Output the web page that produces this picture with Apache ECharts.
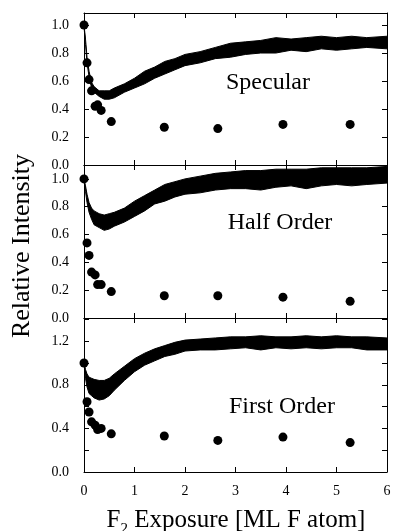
<!DOCTYPE html>
<html>
<head>
<meta charset="utf-8">
<script src="https://cdn.jsdelivr.net/npm/echarts@6/dist/echarts.min.js"></script>
<style>
  html, body { margin: 0; padding: 0; background: #fff; }
  #chart1 { width: 394px; height: 531px; }
</style>
</head>
<body>
<div id="chart1"></div>
<script>
// 初始化echarts实例
let chart1 = echarts.init(document.getElementById("chart1"));

// exposure points where the noisy trace was read (ML F atom)
let traceX = [0, 0.03, 0.06, 0.1, 0.15, 0.2, 0.3, 0.4, 0.5, 0.6, 0.8, 1.0, 1.2, 1.4, 1.6, 1.8, 2.0, 2.3, 2.6, 2.9, 3.2, 3.5, 3.8, 4.1, 4.4, 4.7, 5.0, 5.3, 5.6, 6.0];

// lower / upper edge of the noisy trace, one pair per panel
let specLow = [0.99, 0.86, 0.73, 0.63, 0.55, 0.52, 0.49, 0.47, 0.47, 0.48, 0.52, 0.55, 0.58, 0.62, 0.65, 0.68, 0.71, 0.73, 0.76, 0.77, 0.79, 0.80, 0.80, 0.82, 0.81, 0.83, 0.82, 0.83, 0.84, 0.83];
let specHigh = [1.0, 0.90, 0.77, 0.67, 0.59, 0.56, 0.53, 0.53, 0.53, 0.55, 0.58, 0.62, 0.67, 0.70, 0.74, 0.76, 0.79, 0.81, 0.84, 0.87, 0.88, 0.89, 0.91, 0.90, 0.91, 0.92, 0.91, 0.92, 0.91, 0.92];
let halfLow = [0.99, 0.91, 0.83, 0.76, 0.71, 0.67, 0.65, 0.63, 0.64, 0.66, 0.69, 0.73, 0.77, 0.82, 0.84, 0.87, 0.89, 0.90, 0.92, 0.93, 0.93, 0.92, 0.94, 0.95, 0.93, 0.95, 0.96, 0.95, 0.96, 0.97];
let halfHigh = [1.0, 0.95, 0.89, 0.83, 0.79, 0.77, 0.75, 0.74, 0.75, 0.76, 0.79, 0.84, 0.88, 0.92, 0.96, 0.98, 1.0, 1.02, 1.04, 1.05, 1.06, 1.06, 1.07, 1.07, 1.07, 1.08, 1.08, 1.08, 1.08, 1.09];
let firstLow = [0.99, 0.86, 0.78, 0.72, 0.70, 0.68, 0.66, 0.67, 0.70, 0.75, 0.84, 0.92, 0.98, 1.02, 1.06, 1.08, 1.11, 1.12, 1.12, 1.13, 1.14, 1.12, 1.14, 1.13, 1.14, 1.13, 1.14, 1.14, 1.12, 1.12];
let firstHigh = [1.01, 0.94, 0.90, 0.87, 0.86, 0.85, 0.84, 0.84, 0.86, 0.90, 0.97, 1.04, 1.09, 1.13, 1.16, 1.19, 1.21, 1.22, 1.23, 1.24, 1.24, 1.25, 1.24, 1.24, 1.25, 1.24, 1.25, 1.24, 1.24, 1.23];

// 散点数据
let dotX = [0, 0.06, 0.1, 0.15, 0.22, 0.27, 0.34, 0.54, 1.59, 2.65, 3.94, 5.27];
let specDots = [1.0, 0.73, 0.61, 0.53, 0.42, 0.43, 0.39, 0.31, 0.27, 0.26, 0.29, 0.29];
let halfDots = [1.0, 0.54, 0.45, 0.33, 0.31, 0.24, 0.24, 0.19, 0.16, 0.16, 0.15, 0.12];
let firstDots = [1.0, 0.645, 0.55, 0.46, 0.43, 0.39, 0.40, 0.35, 0.33, 0.29, 0.32, 0.27];

let panelNames = ['Specular', 'Half Order', 'First Order'];

let font = '"Liberation Serif", "Times New Roman", serif';

let panels = [
    { top: 13, height: 152, max: 1.086, step: 0.2, minor: 1, low: specLow, high: specHigh, dots: specDots, label: [268, 83] },
    { top: 165, height: 153, max: 1.10, step: 0.2, minor: 1, low: halfLow, high: halfHigh, dots: halfDots, label: [280, 223] },
    { top: 318, height: 154, max: 1.413, step: 0.4, minor: 2, low: firstLow, high: firstHigh, dots: firstDots, label: [282, 407] }
];

let grid = [], xAxis = [], yAxis = [], series = [], graphic = [];

panels.forEach(function (p, i) {
    grid.push({ left: 84, right: 7, top: p.top, height: p.height });
    let last = i === panels.length - 1;
    // bottom + top x axes
    ['bottom', 'top'].forEach(function (pos) {
        xAxis.push({
            type: 'value', gridIndex: i, position: pos, min: 0, max: 6, interval: 1, z: 10,
            axisLine: { show: true, onZero: false, lineStyle: { color: '#000', width: 1 } },
            axisTick: { show: true, inside: true, length: 5, lineStyle: { color: '#000' } },
            axisLabel: { show: last && pos === 'bottom', color: '#000', fontFamily: font, fontSize: 14, margin: 12 },
            splitLine: { show: false }
        });
    });
    ['left', 'right'].forEach(function (pos) {
        yAxis.push({
            type: 'value', gridIndex: i, position: pos, min: 0, max: p.max, interval: p.step, z: 10,
            axisLine: { show: true, onZero: false, lineStyle: { color: '#000', width: 1 } },
            axisTick: { show: true, inside: true, length: 5, lineStyle: { color: '#000' } },
            minorTick: { show: p.minor > 1, splitNumber: p.minor, length: 5, lineStyle: { color: '#000' } },
            axisLabel: {
                show: pos === 'left', color: '#000', fontFamily: font, fontSize: 14, margin: 15,
                showMaxLabel: false,
                formatter: function (v) {
                    let k = v / p.step;
                    if (Math.abs(k - Math.round(k)) > 1e-6) return '';
                    return v.toFixed(1);
                }
            },
            splitLine: { show: false }
        });
    });

    let xi = i * 2, yi = i * 2;
    // upper edge filled black down to 0, lower edge filled white on top of it -> noisy band
    series.push({
        type: 'line', xAxisIndex: xi, yAxisIndex: yi, symbol: 'none',
        lineStyle: { color: '#000', width: 1 },
        areaStyle: { color: '#000', opacity: 1 },
        data: traceX.map(function (x, k) { return [x, p.high[k]]; }),
        z: 1, silent: true
    });
    series.push({
        type: 'line', xAxisIndex: xi, yAxisIndex: yi, symbol: 'none',
        lineStyle: { color: '#000', width: 1 },
        areaStyle: { color: '#fff', opacity: 1 },
        data: traceX.map(function (x, k) { return [x, p.low[k]]; }),
        z: 2, silent: true
    });
    series.push({
        type: 'scatter', xAxisIndex: xi, yAxisIndex: yi, symbol: 'circle', symbolSize: 9,
        itemStyle: { color: '#000', opacity: 1 },
        data: dotX.map(function (x, k) { return [x, p.dots[k]]; }),
        z: 3
    });

    graphic.push({
        type: 'text', x: p.label[0], y: p.label[1], z: 20,
        style: { text: panelNames[i], fill: '#000', font: '24px ' + font, textAlign: 'center', textVerticalAlign: 'middle' }
    });
});

// axis titles
graphic.push({
    type: 'text', x: 22, y: 246, rotation: Math.PI / 2, z: 20,
    style: { text: 'Relative Intensity', fill: '#000', font: '26px ' + font, textAlign: 'center', textVerticalAlign: 'middle' }
});
graphic.push({
    type: 'text', x: 236, y: 520, z: 20,
    style: {
        text: '{a|F}{s|2}{a| Exposure [ML F atom]}',
        textAlign: 'center', textVerticalAlign: 'middle',
        rich: {
            a: { fontFamily: font, fontSize: 25, fill: '#000', lineHeight: 26, verticalAlign: 'bottom' },
            s: { fontFamily: font, fontSize: 15, fill: '#000', lineHeight: 26, verticalAlign: 'bottom', padding: [0, 0, -4, 0] }
        }
    }
});

// 指定图表的配置项和数据
let option = {
    backgroundColor: '#fff',
    animation: false,
    grid: grid,
    xAxis: xAxis,
    yAxis: yAxis,
    series: series,
    graphic: graphic
};
window.onresize = chart1.resize;
chart1.setOption(option);
</script>
</body>
</html>
